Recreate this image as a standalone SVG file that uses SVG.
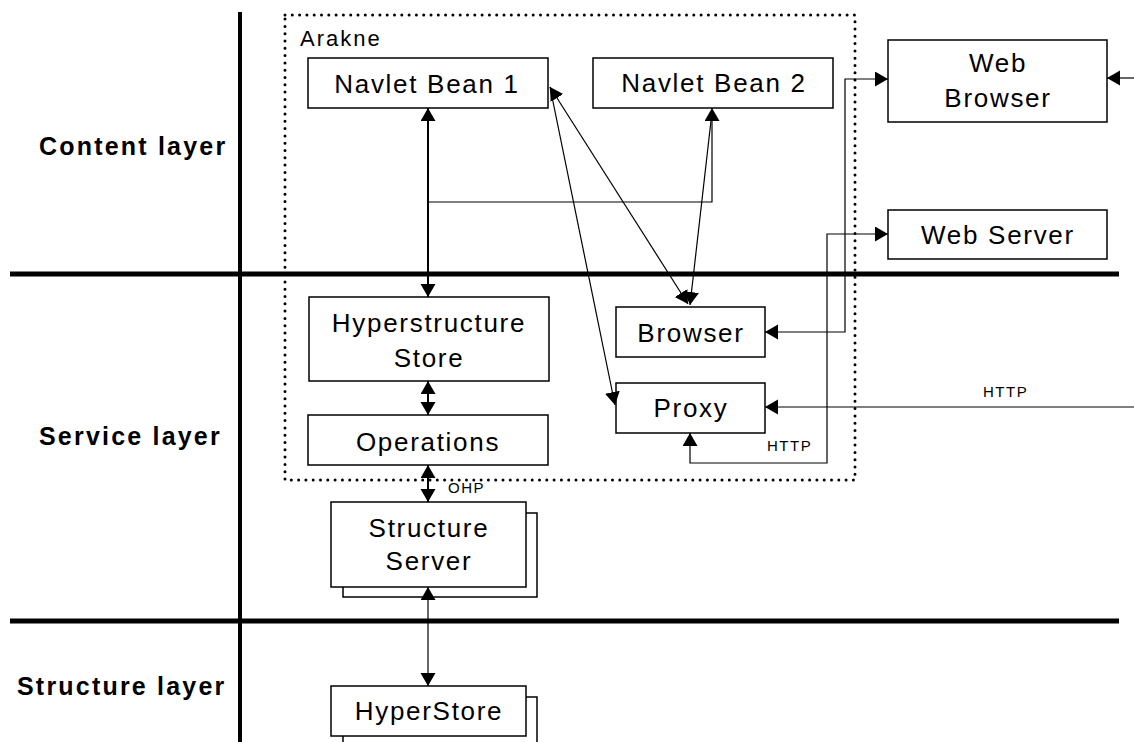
<svg xmlns="http://www.w3.org/2000/svg" width="1134" height="742" viewBox="0 0 1134 742">
<style>
.box{fill:#fff;stroke:#000;stroke-width:1.5}
.lbl{font-family:"Liberation Sans",Arial,sans-serif;font-size:26px;letter-spacing:1.7px;text-anchor:middle;fill:#000}
.layer{font-family:"Liberation Sans",Arial,sans-serif;font-size:25px;font-weight:bold;letter-spacing:2.2px;fill:#000}
.small{font-family:"Liberation Sans",Arial,sans-serif;font-size:15px;letter-spacing:1.5px;fill:#000}
.ln{fill:none;stroke:#000;stroke-width:1.2}
.thick{stroke:#000;stroke-width:5;fill:none}
</style>
<defs>
<marker id="ah" markerUnits="userSpaceOnUse" markerWidth="14" markerHeight="16" refX="13" refY="7.5" orient="auto-start-reverse" viewBox="0 0 14 16">
<path d="M0,0 L13,7.5 L0,15 z" fill="#000"/>
</marker>
</defs>

<g id="layers">
<line class="thick" x1="240" y1="12" x2="240" y2="742" style="stroke-width:4"/>
<line class="thick" x1="10" y1="274" x2="1119" y2="274"/>
<line class="thick" x1="10" y1="621" x2="1119" y2="621"/>
<text class="layer" x="39" y="155">Content layer</text>
<text class="layer" x="39" y="445">Service layer</text>
<text class="layer" x="17" y="695">Structure layer</text>
</g>

<g id="arakne">
<rect x="285" y="15" width="570" height="465" fill="none" stroke="#000" stroke-width="3" stroke-dasharray="0 7.3" stroke-linecap="round"/>
<text class="small" x="300" y="46" style="font-size:22px;letter-spacing:2px">Arakne</text>
</g>

<g id="navlet1">
<rect class="box" x="308" y="58" width="240" height="50"/>
<text class="lbl" x="427" y="93">Navlet Bean 1</text>
</g>
<g id="navlet2">
<rect class="box" x="593" y="58" width="240" height="50"/>
<text class="lbl" x="714" y="92">Navlet Bean 2</text>
</g>
<g id="webbrowser">
<rect class="box" x="888" y="40" width="219" height="82"/>
<text class="lbl" x="998" y="72">Web</text>
<text class="lbl" x="998" y="107">Browser</text>
</g>
<g id="webserver">
<rect class="box" x="888" y="210" width="219" height="49"/>
<text class="lbl" x="998" y="244">Web Server</text>
</g>
<g id="hyperstore-struct">
<rect class="box" x="309" y="297" width="240" height="84"/>
<text class="lbl" x="429" y="332">Hyperstructure</text>
<text class="lbl" x="429" y="367">Store</text>
</g>
<g id="browser">
<rect class="box" x="616" y="307" width="149" height="50"/>
<text class="lbl" x="691" y="342">Browser</text>
</g>
<g id="proxy">
<rect class="box" x="616" y="383" width="149" height="50"/>
<text class="lbl" x="691" y="417">Proxy</text>
</g>
<g id="operations">
<rect class="box" x="308" y="415" width="240" height="50"/>
<text class="lbl" x="428" y="451">Operations</text>
</g>
<g id="structureserver">
<rect class="box" x="343" y="513" width="194" height="84"/>
<rect class="box" x="331" y="502" width="195" height="85"/>
<text class="lbl" x="429" y="537">Structure</text>
<text class="lbl" x="429" y="570">Server</text>
</g>
<g id="hyperstore">
<rect class="box" x="343" y="697" width="194" height="60"/>
<rect class="box" x="331" y="686" width="195" height="50"/>
<text class="lbl" x="429" y="720">HyperStore</text>
</g>

<g id="connectors">
<line class="ln" x1="428" y1="108" x2="428" y2="297" style="stroke-width:2" marker-start="url(#ah)" marker-end="url(#ah)"/>
<polyline class="ln" points="428,202 712,202 712,108" marker-end="url(#ah)"/>
<line class="ln" x1="550" y1="87" x2="688" y2="304" marker-start="url(#ah)" marker-end="url(#ah)"/>
<line class="ln" x1="550" y1="87" x2="615" y2="405" marker-end="url(#ah)"/>
<line class="ln" x1="712" y1="112" x2="690" y2="305" marker-end="url(#ah)"/>
<line class="ln" x1="428" y1="381" x2="428" y2="415" style="stroke-width:2" marker-start="url(#ah)" marker-end="url(#ah)"/>
<line class="ln" x1="428" y1="465" x2="428" y2="502" style="stroke-width:2" marker-start="url(#ah)" marker-end="url(#ah)"/>
<line class="ln" x1="428" y1="587" x2="428" y2="686" marker-start="url(#ah)" marker-end="url(#ah)"/>
<polyline class="ln" points="765,332 845,332 845,79 888,79" marker-start="url(#ah)" marker-end="url(#ah)"/>
<polyline class="ln" points="690,433 690,463 827,463 827,234 888,234" marker-start="url(#ah)" marker-end="url(#ah)"/>
<line class="ln" x1="1134" y1="78" x2="1107" y2="78" marker-end="url(#ah)"/>
<line class="ln" x1="1134" y1="407" x2="765" y2="407" marker-end="url(#ah)"/>
<text class="small" x="983" y="397">HTTP</text>
<text class="small" x="767" y="451">HTTP</text>
<text class="small" x="448" y="493">OHP</text>
</g>
</svg>
